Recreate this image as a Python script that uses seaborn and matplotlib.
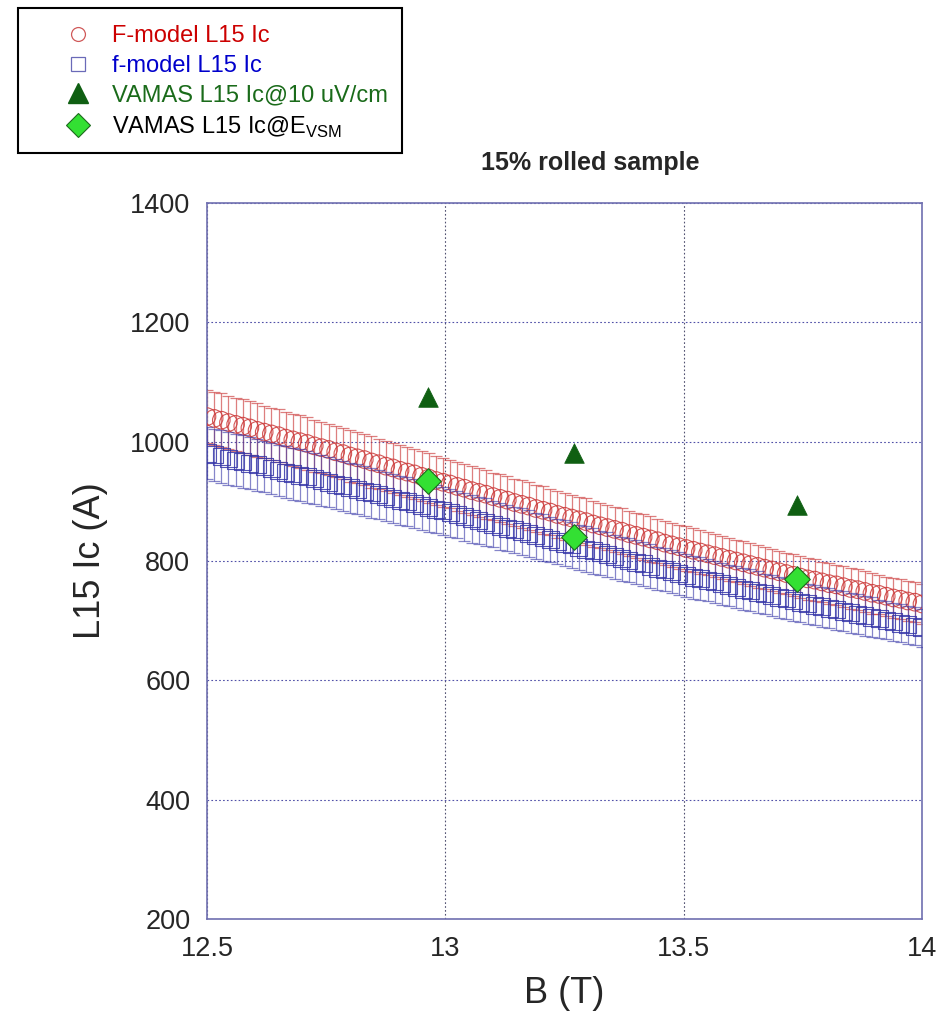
import numpy as np
import pandas as pd
import matplotlib
matplotlib.use("Agg")
import matplotlib.pyplot as plt
from matplotlib.lines import Line2D
from matplotlib.patches import Rectangle
import seaborn as sns

# ---------------- data ----------------
B_START, B_STEP, N_PTS = 12.5, 0.015, 101
B_FIELD = [round(B_START + B_STEP * i, 4) for i in range(N_PTS)]

F_MODEL_IC = [1042, 1039, 1036, 1032, 1029, 1026, 1023, 1019, 1016, 1013,
              1010, 1006, 1003, 1000, 997, 993, 990, 987, 983, 980,
              976, 973, 970, 966, 963, 959, 956, 952, 949, 946,
              942, 939, 935, 932, 929, 925, 922, 918, 915, 912,
              908, 905, 902, 898, 895, 892, 888, 885, 882, 878,
              875, 872, 869, 866, 862, 859, 856, 853, 850, 846,
              843, 840, 837, 834, 830, 827, 824, 821, 818, 815,
              812, 809, 806, 803, 800, 797, 794, 791, 788, 785,
              782, 779, 776, 773, 770, 768, 765, 762, 760, 757,
              754, 752, 749, 746, 744, 741, 738, 736, 733, 731,
              728]

f_MODEL_IC = [981, 978, 975, 972, 969, 967, 964, 961, 958, 955,
              952, 949, 946, 944, 941, 938, 935, 932, 929, 926,
              923, 920, 917, 914, 911, 908, 905, 902, 899, 896,
              893, 890, 887, 884, 881, 878, 874, 871, 868, 865,
              862, 858, 855, 852, 849, 846, 842, 839, 836, 833,
              830, 827, 823, 820, 817, 814, 811, 807, 804, 801,
              798, 795, 791, 788, 785, 782, 779, 776, 773, 770,
              768, 765, 762, 759, 756, 753, 751, 748, 745, 742,
              739, 737, 734, 731, 728, 726, 723, 721, 718, 716,
              713, 711, 708, 706, 703, 701, 698, 696, 693, 691,
              688]

F_MODEL_ERR = [45, 45, 45, 45, 45, 45, 45, 45, 44, 44,
               44, 44, 44, 44, 44, 44, 43, 43, 43, 43,
               43, 43, 43, 43, 42, 42, 42, 42, 42, 42,
               42, 42, 41, 41, 41, 41, 41, 41, 41, 41,
               40, 40, 40, 40, 40, 40, 40, 40, 39, 39,
               39, 39, 39, 39, 39, 38, 38, 38, 38, 38,
               38, 38, 38, 37, 37, 37, 37, 37, 37, 37,
               36, 36, 36, 36, 36, 36, 36, 36, 35, 35,
               35, 35, 35, 35, 35, 35, 34, 34, 34, 34,
               34, 34, 34, 34, 33, 33, 33, 33, 33, 33,
               33]

f_MODEL_ERR = [44, 44, 44, 44, 44, 44, 44, 44, 43, 43,
               43, 43, 43, 43, 43, 43, 42, 42, 42, 42,
               42, 42, 42, 42, 41, 41, 41, 41, 41, 41,
               41, 41, 40, 40, 40, 40, 40, 40, 40, 40,
               39, 39, 39, 39, 39, 39, 39, 39, 38, 38,
               38, 38, 38, 38, 38, 37, 37, 37, 37, 37,
               37, 37, 37, 36, 36, 36, 36, 36, 36, 36,
               35, 35, 35, 35, 35, 35, 35, 35, 34, 34,
               34, 34, 34, 34, 34, 34, 33, 33, 33, 33,
               33, 33, 33, 33, 32, 32, 32, 32, 32, 32,
               32]

VAMAS_B = [12.964, 13.27, 13.738]
VAMAS_IC_10UV = [1075, 981, 894]
VAMAS_IC_EVSM = [934, 840, 770]

LABELS = ["F-model L15 Ic", "f-model L15 Ic", "VAMAS L15 Ic@10 uV/cm",
          r"VAMAS L15 Ic@E$_{\mathregular{VSM}}$"]
X_TICKS = [12.5, 13, 13.5, 14]
X_TICK_LABELS = ["12.5", "13", "13.5", "14"]
Y_TICKS = [200, 400, 600, 800, 1000, 1200, 1400]
TITLE = "15% rolled sample"
X_LABEL = "B (T)"
Y_LABEL = "L15 Ic (A)"

# ---------------- style ----------------
sns.set_style("white")
plt.rcParams["font.family"] = ["Liberation Sans", "DejaVu Sans"]
plt.rcParams["mathtext.fontset"] = "custom"
plt.rcParams["mathtext.rm"] = "Liberation Sans"

RED = "#cc3a3a"
BLUE = "#3636a8"
DKGREEN = "#0f5f12"
LTGREEN = "#33e033"
FRAME = "#7070b0"

df_F = pd.DataFrame({"B": B_FIELD, "Ic": F_MODEL_IC, "err": F_MODEL_ERR})
df_f = pd.DataFrame({"B": B_FIELD, "Ic": f_MODEL_IC, "err": f_MODEL_ERR})
df_v = pd.DataFrame({"B": VAMAS_B, "Ic10": VAMAS_IC_10UV, "IcE": VAMAS_IC_EVSM})

fig = plt.figure(figsize=(9.53, 10.11), dpi=100)
ax = fig.add_axes([207 / 953, 92 / 1011, 715 / 953, 716 / 1011])

# red F-model
ax.errorbar(df_F["B"], df_F["Ic"], yerr=df_F["err"], fmt="none",
            ecolor=RED, elinewidth=0.9, capsize=4.5, capthick=0.9,
            alpha=0.65, zorder=2)
sns.scatterplot(data=df_F, x="B", y="Ic", ax=ax, marker="o", s=160,
                facecolor="none", edgecolor=RED, linewidth=0.8,
                alpha=0.85, zorder=3, legend=False)

# blue f-model
ax.errorbar(df_f["B"], df_f["Ic"], yerr=df_f["err"], fmt="none",
            ecolor=BLUE, elinewidth=0.9, capsize=4.5, capthick=0.9,
            alpha=0.6, zorder=4)
sns.scatterplot(data=df_f, x="B", y="Ic", ax=ax, marker="s", s=150,
                facecolor="none", edgecolor=BLUE, linewidth=0.8,
                alpha=0.85, zorder=5, legend=False)

# VAMAS points
sns.scatterplot(data=df_v, x="B", y="Ic10", ax=ax, marker="^", s=200,
                color=DKGREEN, edgecolor=DKGREEN, linewidth=0.5,
                zorder=6, legend=False)
sns.scatterplot(data=df_v, x="B", y="IcE", ax=ax, marker="D", s=170,
                color=LTGREEN, edgecolor="#1d6a1d", linewidth=0.8,
                zorder=7, legend=False)

ax.set_xlim(12.5, 14)
ax.set_ylim(200, 1400)
ax.set_xticks(X_TICKS)
ax.set_xticklabels(X_TICK_LABELS)
ax.set_yticks(Y_TICKS)
ax.tick_params(axis="both", length=0, labelsize=19.5)
ax.tick_params(axis="y", pad=12)
ax.tick_params(axis="x", pad=12)

ax.set_xlabel(X_LABEL, fontsize=26, labelpad=10)
ax.set_ylabel(Y_LABEL, fontsize=26, labelpad=16)

ax.grid(True, axis="y", linestyle=(0, (1.5, 2)), color="#5050a8", linewidth=0.8)
ax.grid(True, axis="x", linestyle=(0, (1.5, 2)), color="#505070", linewidth=0.8)
ax.set_axisbelow(True)
for sp in ax.spines.values():
    sp.set_color(FRAME)
    sp.set_linewidth(1.2)

fig.text(590 / 953, 1 - 163 / 1011, TITLE, ha="center", va="center",
         fontsize=18, fontweight="bold")

# legend
handles = [
    Line2D([], [], linestyle="none", marker="o", markersize=10,
           markerfacecolor="none", markeredgecolor="#d05a5a", markeredgewidth=0.9),
    Line2D([], [], linestyle="none", marker="s", markersize=10,
           markerfacecolor="none", markeredgecolor="#6a6ab8", markeredgewidth=0.9),
    Line2D([], [], linestyle="none", marker="^", markersize=14,
           markerfacecolor=DKGREEN, markeredgecolor=DKGREEN),
    Line2D([], [], linestyle="none", marker="D", markersize=12,
           markerfacecolor=LTGREEN, markeredgecolor="#1d6a1d", markeredgewidth=0.8),
]
leg = fig.legend(handles, LABELS, loc="upper left",
                 bbox_to_anchor=(54 / 953, 1 - 25 / 1011), frameon=False,
                 fontsize=17, borderpad=0, borderaxespad=0,
                 handlelength=2.0, handletextpad=0.45, labelspacing=0.33,
                 labelcolor=["#cc0000", "#0000cc", "#1a6b1a", "black"])
fig.add_artist(Rectangle((18 / 953, 1 - 153 / 1011), 384 / 953, 145 / 1011,
                         transform=fig.transFigure, fill=False,
                         edgecolor="black", linewidth=1.5))

fig.savefig("out.png", dpi=100)
